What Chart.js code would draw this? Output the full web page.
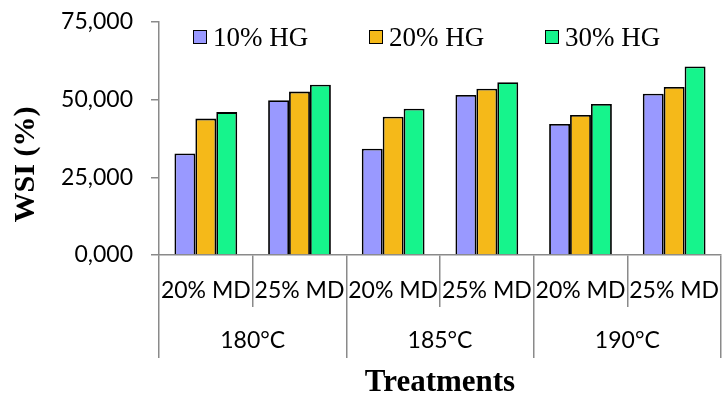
<!DOCTYPE html>
<html>
<head>
<meta charset="utf-8">
<title>WSI</title>
<script src="https://cdn.jsdelivr.net/npm/chart.js@4"></script>
<style>
  html, body { margin: 0; padding: 0; background: #fff; }
  #wrap { position: relative; width: 722px; height: 398px; }
  canvas { display: block; }
  #legend {
    position: absolute; left: 193px; top: 23px;
    display: flex; margin: 0; padding: 0; list-style: none;
    font-family: 'Liberation Serif', 'Times New Roman', serif;
    font-size: 27px; line-height: 28px; color: #000;
  }
  #legend li { display: flex; align-items: center; width: 176px; white-space: nowrap; }
  #legend .box {
    width: 14px; height: 14px; box-sizing: border-box;
    border: 1.5px solid #000; margin-right: 6px; flex: none;
  }
</style>
</head>
<body>
<div id="wrap">
  <canvas id="wsiChart" width="722" height="398"></canvas>
  <ul id="legend"></ul>
</div>
<script>
// categories: maltodextrin level inside each drying temperature
const mdLabels = ['20% MD', '25% MD', '20% MD', '25% MD', '20% MD', '25% MD'];
const tempLabels = ['180°C', '185°C', '190°C'];

// WSI (%) per hydrocolloid level
const hg10 = [32.7, 49.8, 34.2, 51.5, 42.2, 51.9];
const hg20 = [43.9, 52.6, 44.5, 53.5, 45.1, 54.1];
const hg30 = [46.0, 54.8, 47.1, 55.6, 48.6, 60.7];

const yTicks = [0, 25, 50, 75];

const axisGray = '#8a8a8a';
const sans = 'Lato';
const serif = "'Liberation Serif', 'Times New Roman', serif";

// y title is drawn by hand so it can sit centred on the plot + label rows
const yTitle = {
    id: 'yTitle',
    afterDraw(chart) {
        const ctx = chart.ctx;
        const y = (chart.chartArea.top + chart.scales.x.bottom) / 2;
        ctx.save();
        ctx.translate(26, y);
        ctx.rotate(-Math.PI / 2);
        ctx.font = 'bold 30px ' + serif;
        ctx.fillStyle = '#000';
        ctx.textAlign = 'center';
        ctx.textBaseline = 'middle';
        ctx.fillText('WSI (%)', 0, 0);
        ctx.restore();
    }
};

const ctx = document.getElementById('wsiChart').getContext('2d');
const chart = new Chart(ctx, {
    type: 'bar',
    data: {
        labels: mdLabels,
        datasets: [
            { label: '10% HG', data: hg10, backgroundColor: '#9999ff' },
            { label: '20% HG', data: hg20, backgroundColor: '#f5b919' },
            { label: '30% HG', data: hg30, backgroundColor: '#16f48c' }
        ].map(d => Object.assign(d, {
            borderColor: '#000',
            borderWidth: 1.8,
            categoryPercentage: 0.67,
            barPercentage: 1
        }))
    },
    options: {
        responsive: false,
        animation: false,
        devicePixelRatio: 1,
        layout: { padding: { top: 22, right: 1, left: 0, bottom: 0 } },
        plugins: {
            legend: { display: false },
            tooltip: { enabled: false }
        },
        scales: {
            x: {
                weight: 0,
                afterFit: s => { s.height = 52; },
                border: { display: true, color: axisGray, width: 1.5 },
                grid: {
                    offset: true,
                    drawOnChartArea: false,
                    tickLength: 52,
                    color: axisGray,
                    lineWidth: 1.5
                },
                ticks: {
                    padding: -30,
                    color: '#000',
                    maxRotation: 0,
                    autoSkip: false,
                    font: { family: sans, size: 23 }
                }
            },
            x2: {
                type: 'category',
                labels: tempLabels,
                position: 'bottom',
                offset: true,
                weight: 1,
                afterFit: s => { s.height = 91; },
                border: { display: false },
                grid: {
                    offset: true,
                    drawOnChartArea: false,
                    tickLength: 51,
                    color: axisGray,
                    lineWidth: 1.5
                },
                ticks: {
                    padding: -31,
                    color: '#000',
                    maxRotation: 0,
                    font: { family: sans, size: 23 }
                },
                title: {
                    display: true,
                    text: 'Treatments',
                    color: '#000',
                    padding: 0,
                    font: { family: serif, size: 31, weight: 'bold', lineHeight: 1 }
                }
            },
            y: {
                min: 0,
                max: 75,
                afterFit: s => {
                    s.width = 159;
                    s.paddingTop = 0;
                    s.paddingBottom = 0;
                },
                afterBuildTicks: s => { s.ticks = yTicks.map(v => ({ value: v })); },
                border: { display: true, color: axisGray, width: 1.5 },
                grid: {
                    drawOnChartArea: false,
                    tickLength: 8,
                    color: axisGray,
                    lineWidth: 1.5
                },
                ticks: {
                    padding: 18,
                    color: '#000',
                    font: { family: sans, size: 23 },
                    callback: v => v.toFixed(3).replace('.', ',')
                }
            }
        }
    },
    plugins: [yTitle]
});

// legend built from the chart's own legend items
const legendEl = document.getElementById('legend');
chart.options.plugins.legend.labels.generateLabels(chart).forEach(item => {
    const li = document.createElement('li');
    const box = document.createElement('span');
    box.className = 'box';
    box.style.background = item.fillStyle;
    li.appendChild(box);
    li.appendChild(document.createTextNode(item.text));
    legendEl.appendChild(li);
});
</script>
</body>
</html>
